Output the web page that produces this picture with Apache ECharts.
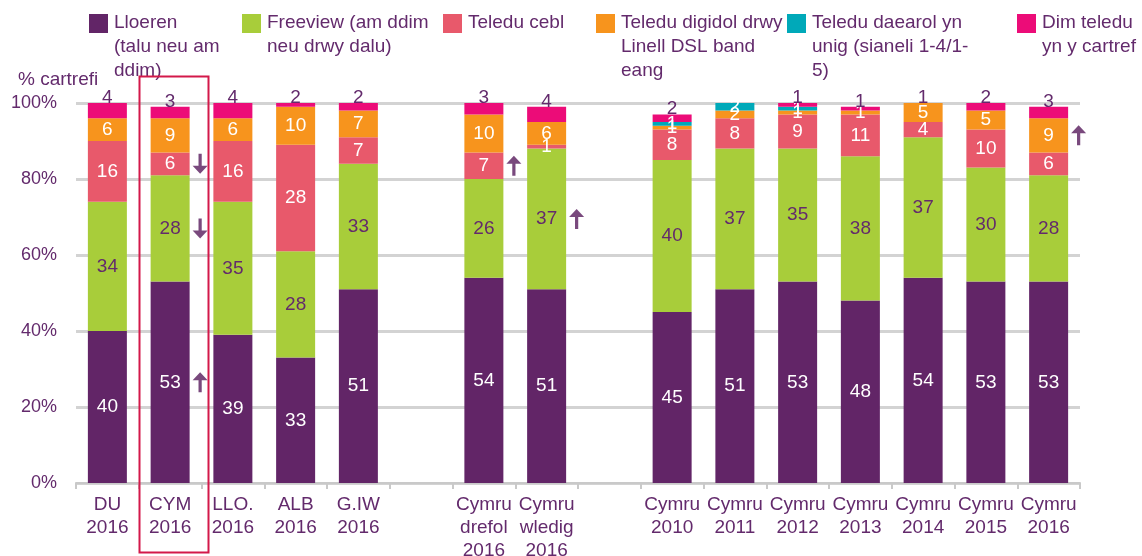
<!DOCTYPE html>
<html>
<head>
<meta charset="utf-8">
<script src="https://cdn.jsdelivr.net/npm/echarts@6/dist/echarts.min.js"></script>
<style>
  html, body { margin: 0; padding: 0; background: #fff; }
  #main { width: 1142px; height: 556px; }
</style>
</head>
<body>
<div id="main"></div>
<script>
// categories (empty strings are the gaps between groups)
var categories = ['DU\n2016', 'CYM\n2016', 'LLO.\n2016', 'ALB\n2016', 'G.IW\n2016', '',
  'Cymru\ndrefol\n2016', 'Cymru\nwledig\n2016', '',
  'Cymru\n2010', 'Cymru\n2011', 'Cymru\n2012', 'Cymru\n2013', 'Cymru\n2014', 'Cymru\n2015', 'Cymru\n2016'];

var lloeren   = [40, 53, 39, 33, 51, null, 54, 51, null, 45, 51, 53, 48, 54, 53, 53];
var freeview  = [34, 28, 35, 28, 33, null, 26, 37, null, 40, 37, 35, 38, 37, 30, 28];
var cebl      = [16, 6, 16, 28, 7, null, 7, 1, null, 8, 8, 9, 11, 4, 10, 6];
var dsl       = [6, 9, 6, 10, 7, null, 10, 6, null, 1, 2, 1, 1, 5, 5, 9];
var daearol   = [0, 0, 0, 0, 0, null, 0, 0, null, 1, 2, 1, 0, 0, 0, 0];
var dimTeledu = [4, 3, 4, 2, 2, null, 3, 4, null, 2, 0, 1, 1, 1, 2, 3];

var seriesNames = ['Lloeren', 'Freeview', 'Teledu cebl', 'Teledu digidol', 'Teledu daearol', 'Dim teledu'];
var legendLabels = ['Lloeren\n(talu neu am\nddim)', 'Freeview (am ddim\nneu drwy dalu)', 'Teledu cebl',
  'Teledu digidol drwy\nLinell DSL band\neang', 'Teledu daearol yn\nunig (sianeli 1-4/1-\n5)', 'Dim teledu\nyn y cartref'];
var yTicks = [0, 20, 40, 60, 80, 100];

// change arrows: category index, segment (series index), direction
var arrows = [
  { cat: 1, seg: 2, dir: 'down' },
  { cat: 1, seg: 1, dir: 'down' },
  { cat: 1, seg: 0, dir: 'up' },
  { cat: 6, seg: 2, dir: 'up' },
  { cat: 7, seg: 1, dir: 'up' },
  { cat: 15, seg: 3, dir: 'up' }
];

var allData = [lloeren, freeview, cebl, dsl, daearol, dimTeledu];
var colors = ['#622567', '#a8cd3a', '#e8596b', '#f7941d', '#00a9b9', '#ec0c78'];
var textPurple = '#632a6c';
var FONT = 'Liberation Sans, Arial, sans-serif';

var myChart = echarts.init(document.getElementById('main'));

var series = allData.map(function (d, i) {
  var isTop = i === 5;
  return {
    name: seriesNames[i],
    type: 'bar',
    stack: 'total',
    barWidth: 39,
    data: d,
    itemStyle: { color: colors[i] },
    label: {
      show: true,
      position: isTop ? 'top' : 'inside',
      distance: isTop ? -4 : 5,
      color: (i === 1 || isTop) ? textPurple : '#fff',
      fontSize: 19,
      fontFamily: FONT,
      formatter: function (p) { return p.value ? String(p.value) : ''; }
    }
  };
});

// arrows at the middle of the segment they refer to
var arrowData = arrows.map(function (a) {
  var base = 0;
  for (var s = 0; s < a.seg; s++) base += allData[s][a.cat] || 0;
  var mid = base + allData[a.seg][a.cat] / 2;
  return { value: [a.cat, mid], symbolRotate: a.dir === 'down' ? 180 : 0 };
});

series.push({
  type: 'scatter',
  silent: true,
  z: 10,
  symbol: 'path://M7,0 L14,8 L8.5,8 L8.5,20 L5.5,20 L5.5,8 L0,8 Z',
  symbolSize: [15, 20],
  symbolOffset: [30, 0],
  itemStyle: { color: '#571c5c' },
  data: arrowData
});

// legend drawn as graphics so the multi-line text hangs from the first line
var legendLeft = [89, 242, 443, 596, 787, 1017];
var graphics = [];
legendLabels.forEach(function (txt, i) {
  graphics.push({
    type: 'rect', left: legendLeft[i], top: 14,
    shape: { width: 19, height: 19 }, style: { fill: colors[i] }
  });
  graphics.push({
    type: 'text', left: legendLeft[i] + 25, top: 11,
    style: { text: txt, fill: textPurple, font: '19px ' + FONT, lineHeight: 24 }
  });
});
// highlight box around CYM 2016
graphics.push({
  type: 'rect', left: 137, top: 74, z: 20,
  shape: { width: 69, height: 476 },
  style: { fill: 'none', stroke: '#d3194a', lineWidth: 2 }
});

var option = {
  animation: false,
  textStyle: { fontFamily: FONT },
  title: {
    text: '% cartrefi', left: 13, top: 65,
    textStyle: { color: textPurple, fontSize: 19, fontWeight: 'normal', fontFamily: FONT }
  },
  grid: { left: 76, right: 62, top: 103, bottom: 73, containLabel: false, outerBoundsMode: 'none' },
  xAxis: {
    type: 'category',
    data: categories,
    axisLine: { lineStyle: { color: '#c9c9c9', width: 2 } },
    axisTick: { show: true, length: 6, lineStyle: { color: '#c9c9c9', width: 2 } },
    axisLabel: { color: textPurple, fontSize: 19, lineHeight: 23, margin: 10, interval: 0, fontFamily: FONT }
  },
  yAxis: {
    type: 'value',
    min: yTicks[0], max: yTicks[yTicks.length - 1], interval: 20,
    axisLine: { show: false },
    axisTick: { show: false },
    axisLabel: { color: textPurple, fontSize: 18, margin: 19, formatter: '{value}%', fontFamily: FONT },
    splitLine: { lineStyle: { color: '#d3d3d3', width: 3 } }
  },
  graphic: graphics,
  series: series
};

myChart.setOption(option);
</script>
</body>
</html>
